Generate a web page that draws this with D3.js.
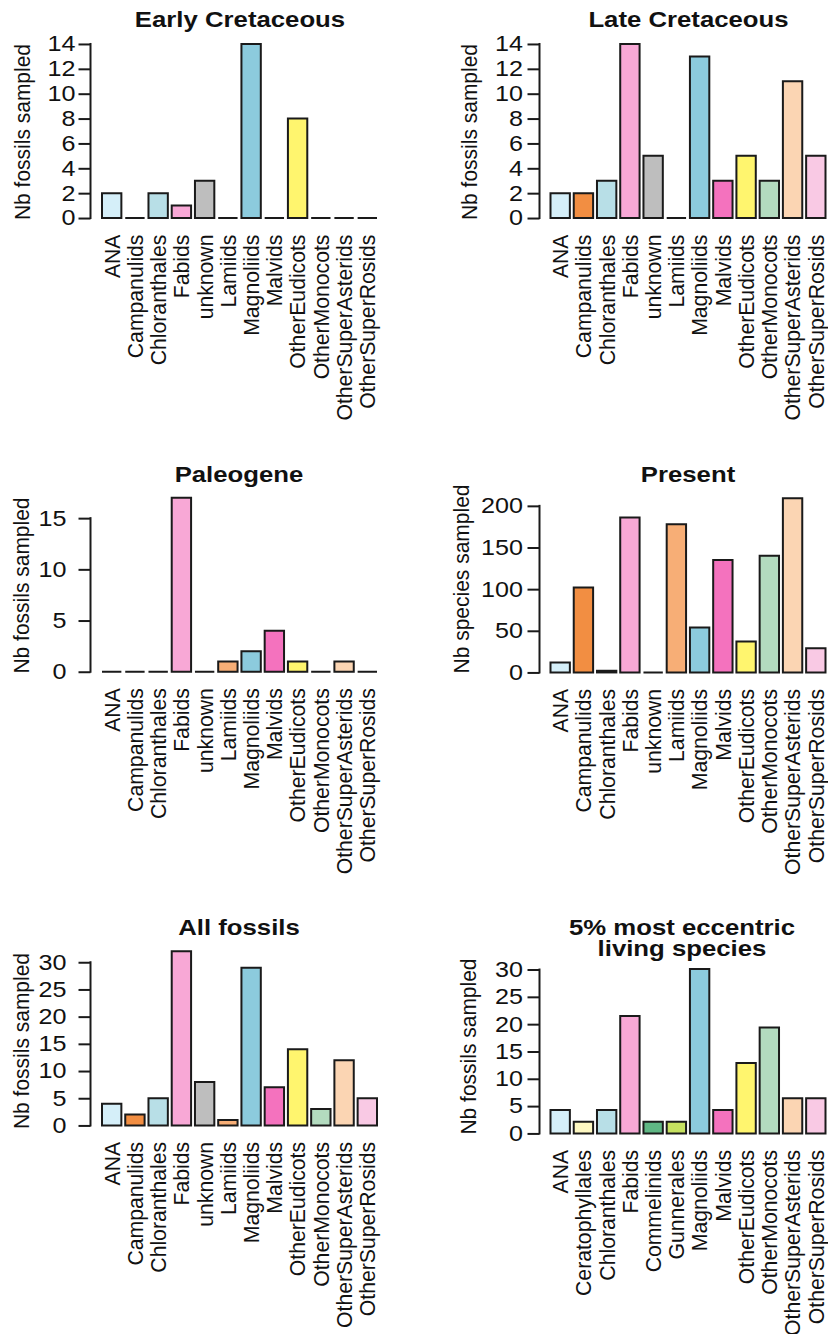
<!DOCTYPE html>
<html>
<head>
<meta charset="utf-8">
<title>Fossils sampled per clade</title>
<script src="https://cdn.jsdelivr.net/npm/d3@7"></script>
<style>
  body { margin: 0; background: #fff; }
  text { font-family: "Liberation Sans", Arial, Helvetica, sans-serif; fill: #111; }
  .bar { stroke: #1a1a1a; stroke-width: 2px; }
  .axis line { stroke: #1a1a1a; stroke-width: 2px; }
</style>
</head>
<body>
<script>
// categories
var clades = ['ANA', 'Campanulids', 'Chloranthales', 'Fabids', 'unknown', 'Lamiids',
    'Magnoliids', 'Malvids', 'OtherEudicots', 'OtherMonocots', 'OtherSuperAsterids', 'OtherSuperRosids'];
var cladesEccentric = ['ANA', 'Ceratophyllales', 'Chloranthales', 'Fabids', 'Commelinids', 'Gunnerales',
    'Magnoliids', 'Malvids', 'OtherEudicots', 'OtherMonocots', 'OtherSuperAsterids', 'OtherSuperRosids'];

// values
var earlyCretaceous = [2, 0, 2, 1, 3, 0, 14, 0, 8, 0, 0, 0];
var lateCretaceous  = [2, 2, 3, 14, 5, 0, 13, 3, 5, 3, 11, 5];
var paleogene       = [0, 0, 0, 17, 0, 1, 2, 4, 1, 0, 1, 0];
var present         = [12, 102, 2, 186, 0, 178, 54, 135, 37, 140, 209, 29];
var allFossils      = [4, 2, 5, 32, 8, 1, 29, 7, 14, 3, 12, 5];
var eccentric       = [4.3, 2.15, 4.3, 21.5, 2.15, 2.15, 30.1, 4.3, 12.9, 19.4, 6.45, 6.45];

// y tick values
var ticks14  = [0, 2, 4, 6, 8, 10, 12, 14];
var ticks15  = [0, 5, 10, 15];
var ticks200 = [0, 50, 100, 150, 200];
var ticks30  = [0, 5, 10, 15, 20, 25, 30];

// fill colour for each clade
var colours = {
    ANA: '#d5eff9', Campanulids: '#f28e42', Chloranthales: '#b8dfe7', Fabids: '#f8a8d6',
    unknown: '#bebebe', Lamiids: '#f7ae76', Magnoliids: '#8ccbdd', Malvids: '#f472be',
    OtherEudicots: '#fff56e', OtherMonocots: '#b3dbbf', OtherSuperAsterids: '#fbd5b3',
    OtherSuperRosids: '#f9c9e4', Ceratophyllales: '#fef8c2', Commelinids: '#5fb784',
    Gunnerales: '#c6e160'
};

// panel layout (pixels)
var panels = [
    { title: ['Early Cretaceous'], ylab: 'Nb fossils sampled', cats: clades, values: earlyCretaceous, ticks: ticks14,
      axisX: 90.5, barL: 102, barR: 377, top: 37, bottom: 225, tickPad: 3, titleX: 240, titleY: 27, ylabX: 30, ylabY: 132 },
    { title: ['Late Cretaceous'], ylab: 'Nb fossils sampled', cats: clades, values: lateCretaceous, ticks: ticks14,
      axisX: 539.5, barL: 550.5, barR: 825.5, top: 37, bottom: 225, tickPad: 4.5, titleX: 688.5, titleY: 27, ylabX: 477, ylabY: 132 },
    { title: ['Paleogene'], ylab: 'Nb fossils sampled', cats: clades, values: paleogene, ticks: ticks15,
      axisX: 90.5, barL: 102, barR: 377, top: 490.7, bottom: 678.7, tickPad: 12, titleX: 239, titleY: 481.7, ylabX: 28.5, ylabY: 585.5 },
    { title: ['Present'], ylab: 'Nb species sampled', cats: clades, values: present, ticks: ticks200,
      axisX: 539.5, barL: 550.5, barR: 825.5, top: 491.4, bottom: 679.4, tickPad: 4.5, titleX: 688, titleY: 481.7, ylabX: 468.5, ylabY: 579 },
    { title: ['All fossils'], ylab: 'Nb fossils sampled', cats: clades, values: allFossils, ticks: ticks30,
      axisX: 90.5, barL: 102, barR: 377, top: 944.4, bottom: 1132.4, tickPad: 12, titleX: 239, titleY: 935, ylabX: 28.5, ylabY: 1041 },
    { title: ['5% most eccentric', 'living species'], ylab: 'Nb fossils sampled', cats: cladesEccentric, values: eccentric, ticks: ticks30,
      axisX: 539.5, barL: 550.5, barR: 825.5, top: 962.4, bottom: 1140, tickPad: 4.5, titleX: 682, titleY: 956, ylabX: 475.5, ylabY: 1046.5 }
];

var stretch = 1.17;

var svg = d3.select('body').append('svg')
    .attr('width', 828)
    .attr('height', 1334);

svg.append('rect').attr('width', 828).attr('height', 1334).attr('fill', '#fff');

panels.forEach(function(p) {
    var ymax = d3.max(p.values);
    var y = d3.scaleLinear().domain([-0.04 * ymax, 1.04 * ymax]).range([p.bottom, p.top]);
    // R barplot: bar i spans [0.2 + 1.2i, 1.2 + 1.2i]
    var x = d3.scaleLinear().domain([0.2, 14.4]).range([p.barL, p.barR]);
    var g = svg.append('g');

    // bars (path so that zero-height bars still show as a line)
    g.selectAll('path.bar')
        .data(p.values)
        .enter().append('path')
            .attr('class', 'bar')
            .attr('fill', function(d, i) { return colours[p.cats[i]]; })
            .attr('d', function(d, i) {
                var x0 = x(0.2 + 1.2 * i), x1 = x(1.2 + 1.2 * i), y0 = y(0), y1 = y(d);
                return 'M' + x0 + ',' + y0 + 'V' + y1 + 'H' + x1 + 'V' + y0 + 'Z';
            });

    // y axis
    var axis = g.append('g')
        .attr('class', 'axis')
        .attr('transform', 'translate(' + p.axisX + ',0)')
        .call(d3.axisLeft(y).tickValues(p.ticks).tickSize(12).tickPadding(p.tickPad));
    axis.attr('font-size', 21.5).attr('font-family', null);
    axis.select('.domain').remove();
    axis.append('line')
        .attr('y1', y(p.ticks[0]))
        .attr('y2', y(p.ticks[p.ticks.length - 1]))
        .attr('stroke-linecap', 'square');
    axis.selectAll('text').each(function() {
        var t = d3.select(this);
        var tx = +t.attr('x');
        t.attr('x', 0).attr('transform', 'translate(' + tx + ',0) scale(' + stretch + ',1)');
    });

    // category labels
    g.selectAll('text.cat')
        .data(p.cats)
        .enter().append('text')
            .attr('class', 'cat')
            .attr('transform', function(d, i) {
                return 'translate(' + x(0.7 + 1.2 * i) + ',' + (y(0) + 16.5) + ') scale(1.06,1) rotate(-90)';
            })
            .attr('dy', '0.35em')
            .style('text-anchor', 'end')
            .style('font-size', '21.2px')
            .text(function(d) { return d; });

    // title
    p.title.forEach(function(line, k) {
        var ty = p.titleY - (p.title.length - 1 - k) * 21;
        g.append('text')
            .attr('transform', 'translate(' + p.titleX + ',' + ty + ') scale(' + stretch + ',1)')
            .style('text-anchor', 'middle')
            .style('font-weight', 'bold')
            .style('font-size', '22px')
            .text(line);
    });

    // y axis title
    g.append('text')
        .attr('transform', 'translate(' + p.ylabX + ',' + p.ylabY + ') scale(1.04,1) rotate(-90)')
        .style('text-anchor', 'middle')
        .style('font-size', '21px')
        .text(p.ylab);
});
</script>
</body>
</html>
